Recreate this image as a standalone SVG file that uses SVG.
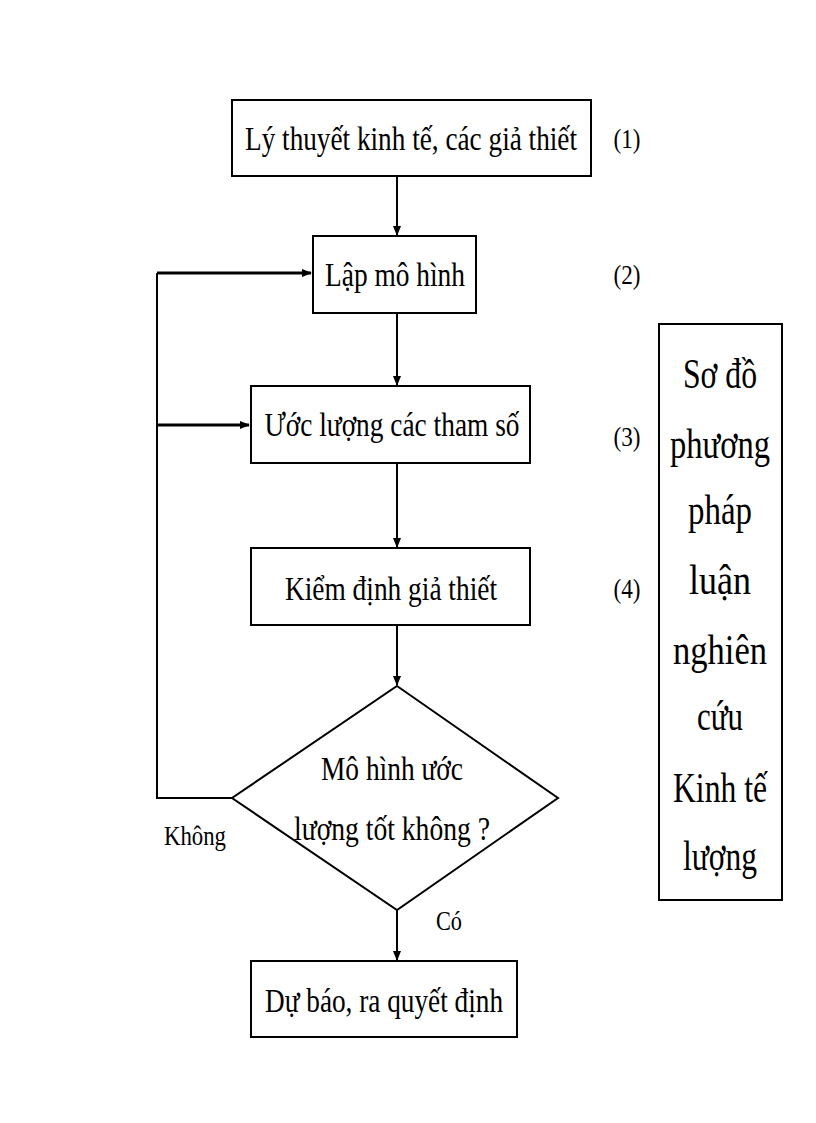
<svg xmlns="http://www.w3.org/2000/svg" width="816" height="1123" viewBox="0 0 816 1123">
<style>
.b{fill:#fff;stroke:#000;stroke-width:2}
.t{font-family:"Liberation Serif",serif;font-size:34px;fill:#000;text-anchor:middle}
.s{font-family:"Liberation Serif",serif;font-size:28px;fill:#000;text-anchor:middle}
.r{font-family:"Liberation Serif",serif;font-size:42px;fill:#000;text-anchor:middle}
.l{stroke:#000;stroke-width:2;fill:none}
.k{stroke:#000;stroke-width:3;fill:none}
</style>
<defs><marker id="a" markerWidth="10" markerHeight="8" refX="9" refY="4" orient="auto" markerUnits="userSpaceOnUse"><path d="M0,0L10,4L0,8z" fill="#000"/></marker></defs>
<rect width="816" height="1123" fill="#fff"/>
<g id="connectors">
<line class="l" x1="397" y1="176" x2="397" y2="235" marker-end="url(#a)"/>
<line class="l" x1="397" y1="313" x2="397" y2="385" marker-end="url(#a)"/>
<line class="l" x1="397" y1="463" x2="397" y2="547" marker-end="url(#a)"/>
<line class="l" x1="397" y1="625" x2="397" y2="685" marker-end="url(#a)"/>
<line class="l" x1="397" y1="910" x2="397" y2="960" marker-end="url(#a)"/>
<polyline class="l" points="232,798 157,798 157,273"/>
<line class="k" x1="157" y1="273" x2="311" y2="273" marker-end="url(#a)"/>
<line class="k" x1="157" y1="425" x2="249" y2="425" marker-end="url(#a)"/>
<text class="s" x="195" y="845" textLength="62" lengthAdjust="spacingAndGlyphs">Không</text>
<text class="s" x="449" y="930" textLength="26" lengthAdjust="spacingAndGlyphs">Có</text>
</g>
<g id="n1"><rect class="b" x="232" y="100" width="359" height="76"/><text class="t" x="411" y="150" textLength="332" lengthAdjust="spacingAndGlyphs">Lý thuyết kinh tế, các giả thiết</text></g>
<g id="n2"><rect class="b" x="313" y="236" width="163" height="77"/><text class="t" x="395" y="286" textLength="140" lengthAdjust="spacingAndGlyphs">Lập mô hình</text></g>
<g id="n3"><rect class="b" x="251" y="386" width="279" height="77"/><text class="t" x="392" y="436" textLength="255" lengthAdjust="spacingAndGlyphs">Ước lượng các tham số</text></g>
<g id="n4"><rect class="b" x="251" y="548" width="279" height="77"/><text class="t" x="391" y="600" textLength="212" lengthAdjust="spacingAndGlyphs">Kiểm định giả thiết</text></g>
<g id="n5"><polygon class="b" points="397,686 558,798 397,910 232,798"/><text class="t" x="392" y="780" textLength="142" lengthAdjust="spacingAndGlyphs">Mô hình ước</text><text class="t" x="392" y="840" textLength="196" lengthAdjust="spacingAndGlyphs">lượng tốt không ?</text></g>
<g id="n6"><rect class="b" x="251" y="961" width="266" height="76"/><text class="t" x="384" y="1012" textLength="238" lengthAdjust="spacingAndGlyphs">Dự báo, ra quyết định</text></g>
<g id="labels"><text class="s" x="627" y="148" textLength="27" lengthAdjust="spacingAndGlyphs">(1)</text><text class="s" x="627" y="284" textLength="27" lengthAdjust="spacingAndGlyphs">(2)</text><text class="s" x="627" y="446" textLength="27" lengthAdjust="spacingAndGlyphs">(3)</text><text class="s" x="627" y="598" textLength="27" lengthAdjust="spacingAndGlyphs">(4)</text></g>
<g id="title"><rect class="b" x="659" y="324" width="123" height="576"/>
<text class="r" x="720" y="388" textLength="74" lengthAdjust="spacingAndGlyphs">Sơ đồ</text>
<text class="r" x="720" y="458" textLength="100" lengthAdjust="spacingAndGlyphs">phương</text>
<text class="r" x="720" y="524" textLength="64" lengthAdjust="spacingAndGlyphs">pháp</text>
<text class="r" x="720" y="594" textLength="62" lengthAdjust="spacingAndGlyphs">luận</text>
<text class="r" x="720" y="664" textLength="94" lengthAdjust="spacingAndGlyphs">nghiên</text>
<text class="r" x="720" y="730" textLength="46" lengthAdjust="spacingAndGlyphs">cứu</text>
<text class="r" x="720" y="802" textLength="94" lengthAdjust="spacingAndGlyphs">Kinh tế</text>
<text class="r" x="720" y="870" textLength="74" lengthAdjust="spacingAndGlyphs">lượng</text>
</g>
</svg>
